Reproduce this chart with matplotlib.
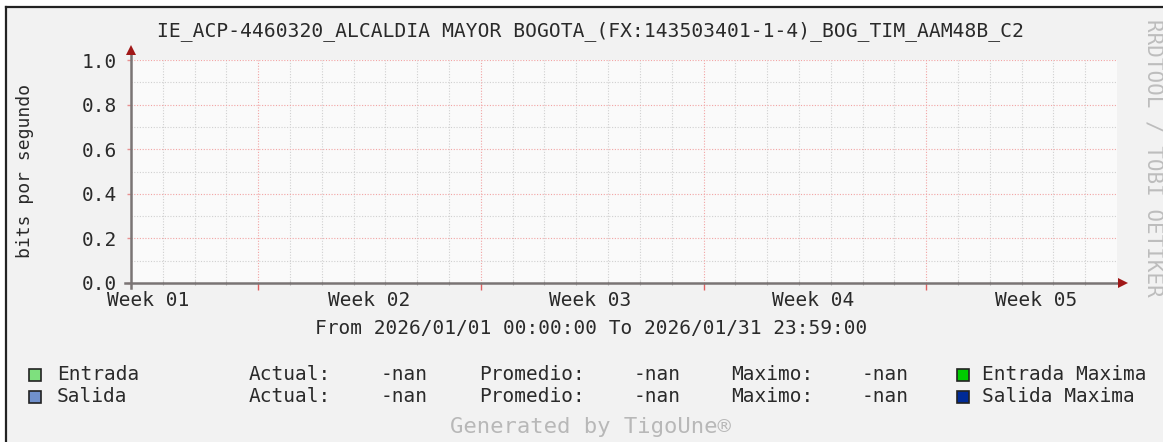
import numpy as np
import matplotlib
matplotlib.use("Agg")
import matplotlib.pyplot as plt
from matplotlib.patches import Rectangle
from matplotlib.lines import Line2D

# ---- data ----
title = "IE_ACP-4460320_ALCALDIA MAYOR BOGOTA_(FX:143503401-1-4)_BOG_TIM_AAM48B_C2"
ylabel = "bits por segundo"
n_days = 31
y_major = [0.0, 0.2, 0.4, 0.6, 0.8, 1.0]
y_major_labels = ["0.0", "0.2", "0.4", "0.6", "0.8", "1.0"]
y_minor = [0.1, 0.3, 0.5, 0.7, 0.9]
week_start_days = [4, 11, 18, 25]          # Mondays (days after 2026-01-01)
week_label_days = [0.55, 7.5, 14.45, 21.45, 28.45]
week_labels = ["Week 01", "Week 02", "Week 03", "Week 04", "Week 05"]
range_text = "From 2026/01/01 00:00:00 To 2026/01/31 23:59:00"
entrada = [np.nan] * n_days
salida = [np.nan] * n_days
legend_names = ["Entrada", "Salida"]
legend_colors = ["#7ee07e", "#7090cc"]
max_names = ["Entrada Maxima", "Salida Maxima"]
max_colors = ["#00cc00", "#002a97"]
stat_actual = ["-nan", "-nan"]
stat_promedio = ["-nan", "-nan"]
stat_maximo = ["-nan", "-nan"]
footer = "Generated by TigoUne®"
watermark = "RRDTOOL / TOBI OETIKER"

W, H = 1163, 442
def fx(px): return px / W
def fy(py): return 1 - py / H

MONO = "DejaVu Sans Mono"
FS = 14
TXT = "#2a2a2a"

fig = plt.figure(figsize=(W / 100, H / 100), dpi=100)
fig.patch.set_facecolor("white")
# background panel and frame
fig.add_artist(Rectangle((fx(5), 0), 1 - fx(5), fy(6), transform=fig.transFigure,
                         facecolor="#f2f2f2", edgecolor="none", zorder=-10))
fig.add_artist(Line2D([fx(5.5), 1], [fy(6.5), fy(6.5)], transform=fig.transFigure,
                      color="#222222", lw=1.6))
fig.add_artist(Line2D([fx(5.5), fx(5.5)], [0, fy(6.5)], transform=fig.transFigure,
                      color="#222222", lw=1.6))

L, R, T, B = 131, 1117, 60, 283
ax = fig.add_axes([fx(L), fy(B), fx(R) - fx(L), fy(T) - fy(B)])
ax.set_facecolor("#fafafa")
ax.set_xlim(0, n_days)
ax.set_ylim(0, 1)
for s in ax.spines.values():
    s.set_visible(False)

days = np.arange(n_days)
ax.plot(days, entrada, color=legend_colors[0])
ax.plot(days, salida, color=legend_colors[1])

# grid
for d in range(1, n_days):
    if d in week_start_days:
        continue
    ax.axvline(d, color="#d0d0d0", lw=0.8, ls=(0, (1, 1.5)), zorder=0)
for y in y_minor:
    ax.axhline(y, color="#d0d0d0", lw=0.8, ls=(0, (1, 1.5)), zorder=0)
for d in week_start_days:
    ax.axvline(d, color="#f2a4a4", lw=0.8, ls=(0, (1, 1.5)), zorder=1)
for y in y_major[1:]:
    ax.axhline(y, color="#f2a4a4", lw=0.8, ls=(0, (1, 1.5)), zorder=1)

# ticks
ax.set_yticks(y_major, y_major_labels)
ax.tick_params(axis="y", length=3, width=1, color="#e89090", pad=7,
               labelsize=FS, labelcolor=TXT)
ax.set_xticks(week_label_days, week_labels)
ax.tick_params(axis="x", length=0, pad=6, labelsize=FS, labelcolor=TXT)
for lab in ax.get_xticklabels() + ax.get_yticklabels():
    lab.set_fontfamily(MONO)
ax.vlines(week_start_days, -7 / 223, 0, color="#e06060", lw=1, clip_on=False, zorder=3)
ax.vlines([d for d in range(1, n_days) if d not in week_start_days], -2 / 223, 2 / 223,
          color="#b0b0b0", lw=0.8, clip_on=False, zorder=3)

# axes lines with arrows
axis_col = "#7a7474"
ax.plot([-6 / 986 * n_days, (1118 - L) / 986 * n_days], [0, 0],
        color=axis_col, lw=1.8, clip_on=False, zorder=4)
ax.plot([0, 0], [-5 / 223, 1 + 6 / 223], color=axis_col, lw=1.8, clip_on=False, zorder=4)
ax.plot([(1123 - L) / 986 * n_days], [0], marker=">", markersize=7, color="#a01818",
        clip_on=False, zorder=5, markeredgewidth=0)
ax.plot([0], [1 + 10 / 223], marker="^", markersize=7, color="#a01818",
        clip_on=False, zorder=5, markeredgewidth=0)

# texts
fig.text(fx(590), fy(31), title, ha="center", va="center", family=MONO, fontsize=14.1, color=TXT)
fig.text(fx(25), fy(171), ylabel, ha="center", va="center", rotation=90, family=MONO,
         fontsize=13, color=TXT)
fig.text(fx(1154), fy(158), watermark, ha="center", va="center", rotation=270, family=MONO,
         fontsize=15, color="#bdbdbd")
fig.text(fx(591), fy(329), range_text, ha="center", va="center", family=MONO, fontsize=FS, color=TXT)

rows_y = [375, 397]
for i in range(2):
    y = rows_y[i]
    fig.add_artist(Rectangle((fx(29), fy(y + 6)), fx(12), 12 / H, transform=fig.transFigure,
                             facecolor=legend_colors[i], edgecolor="#222222", lw=1.2))
    fig.text(fx(57), fy(y), legend_names[i], ha="left", va="center", family=MONO, fontsize=FS, color=TXT)
    fig.text(fx(249), fy(y), "Actual:", ha="left", va="center", family=MONO, fontsize=FS, color=TXT)
    fig.text(fx(381), fy(y), stat_actual[i], ha="left", va="center", family=MONO, fontsize=FS, color=TXT)
    fig.text(fx(479), fy(y), "Promedio:", ha="left", va="center", family=MONO, fontsize=FS, color=TXT)
    fig.text(fx(634), fy(y), stat_promedio[i], ha="left", va="center", family=MONO, fontsize=FS, color=TXT)
    fig.text(fx(731), fy(y), "Maximo:", ha="left", va="center", family=MONO, fontsize=FS, color=TXT)
    fig.text(fx(862), fy(y), stat_maximo[i], ha="left", va="center", family=MONO, fontsize=FS, color=TXT)
    fig.add_artist(Rectangle((fx(957), fy(y + 6)), fx(12), 12 / H, transform=fig.transFigure,
                             facecolor=max_colors[i], edgecolor="#222222", lw=1.2))
    fig.text(fx(982), fy(y), max_names[i], ha="left", va="center", family=MONO, fontsize=FS, color=TXT)

fig.text(fx(590), fy(427), footer, ha="center", va="center", family=MONO, fontsize=16,
         color="#b8b8b8")

fig.savefig("out.png", dpi=100, facecolor=fig.get_facecolor())
